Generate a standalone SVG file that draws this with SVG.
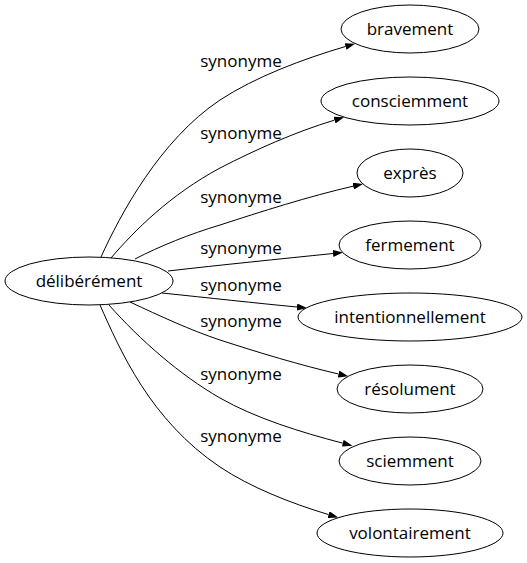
<svg xmlns="http://www.w3.org/2000/svg" width="527" height="563" viewBox="0 0 527 563">
<style>
.n ellipse{fill:#fff;stroke:#000;stroke-width:1}
text{font-family:"Open Sans","DejaVu Sans",sans-serif;font-size:17px;fill:#000;text-anchor:middle}
.e path{fill:none;stroke:#000;stroke-width:1;marker-end:url(#ah)}
</style>
<defs>
<marker id="ah" viewBox="0 0 10 7" refX="0" refY="3.5" markerWidth="10" markerHeight="7" markerUnits="userSpaceOnUse" orient="auto">
<path d="M0,0 L10,3.5 L0,7 Z" fill="#000" stroke="none"/>
</marker>
</defs>
<rect width="527" height="563" fill="#fff"/>
<g id="edges" class="e">
<path d="M101,257 C120,215 160,140 220,100 C255,77 303,59 345.5,46.5"/>
<path d="M111,258 C135,230 170,195 220,168 C255,150 295,132 334.5,120.1"/>
<path d="M135,259 C160,246 190,234 220,225 C260,212 310,196 353.2,186.2"/>
<path d="M168,271 C220,265 280,259 333,253.5"/>
<path d="M162,293 C210,298 255,303 297,307"/>
<path d="M130,302 C160,316 190,330 220,340 C260,353 300,365 338.5,374"/>
<path d="M109,305 C140,340 180,375 220,398 C255,418 300,432 342.8,443.2"/>
<path d="M100,305 C120,350 150,420 220,467 C250,487 290,503 328.6,514.6"/>
</g>
<g id="labels">
<text x="241" y="67">synonyme</text>
<text x="241" y="139">synonyme</text>
<text x="241" y="203">synonyme</text>
<text x="241" y="254">synonyme</text>
<text x="241" y="291">synonyme</text>
<text x="241" y="327">synonyme</text>
<text x="241" y="380">synonyme</text>
<text x="241" y="442">synonyme</text>
</g>
<g id="n0" class="n"><ellipse cx="89" cy="281" rx="84" ry="24"/><text x="89" y="287">délibérément</text></g>
<g id="n1" class="n"><ellipse cx="410" cy="29" rx="69" ry="24"/><text x="410" y="35">bravement</text></g>
<g id="n2" class="n"><ellipse cx="410" cy="101" rx="89" ry="24"/><text x="410" y="107">consciemment</text></g>
<g id="n3" class="n"><ellipse cx="410" cy="173" rx="53" ry="24"/><text x="410" y="179">exprès</text></g>
<g id="n4" class="n"><ellipse cx="410" cy="245" rx="71" ry="24"/><text x="410" y="251">fermement</text></g>
<g id="n5" class="n"><ellipse cx="410" cy="317" rx="112" ry="24"/><text x="410" y="323">intentionnellement</text></g>
<g id="n6" class="n"><ellipse cx="410" cy="389" rx="73" ry="24"/><text x="410" y="395">résolument</text></g>
<g id="n7" class="n"><ellipse cx="410" cy="461" rx="71" ry="24"/><text x="410" y="467">sciemment</text></g>
<g id="n8" class="n"><ellipse cx="410" cy="533" rx="93" ry="24"/><text x="410" y="539">volontairement</text></g>
</svg>
